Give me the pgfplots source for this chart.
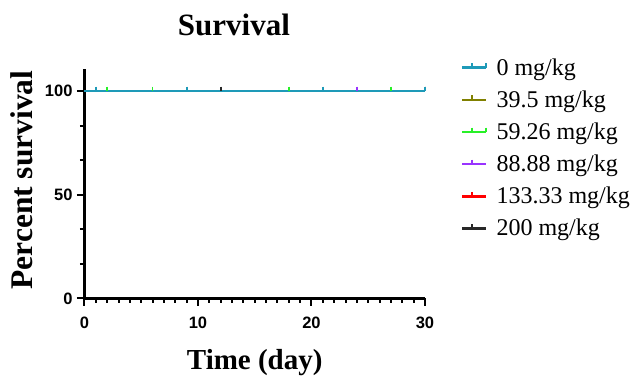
\documentclass[border=0pt]{standalone}
\usepackage{pgfplots}
\pgfplotsset{compat=1.18}
\usepackage{fontspec}
\setmainfont{Liberation Serif}
\setsansfont{Liberation Sans}
\definecolor{cteal}{RGB}{30,154,184}
\definecolor{colive}{RGB}{128,128,0}
\definecolor{cgreen}{RGB}{40,240,40}
\definecolor{cpurple}{RGB}{153,51,255}
\definecolor{cred}{RGB}{255,0,0}
\definecolor{cblack}{RGB}{40,40,40}
\pgfplotsset{srv/.style={line width=2.6pt, mark=|, mark size=2.2pt, mark options={yshift=2.2pt, line width=1.8pt, solid}}}
\begin{document}
\begin{tikzpicture}
\path[use as bounding box] (-84.5pt,-78.5pt) rectangle (548.5pt,298.5pt);
\begin{axis}[
  at={(0pt,0pt)}, anchor=south west,
  scale only axis, width=340.5pt, height=229.5pt,
  xmin=0, xmax=30, ymin=0, ymax=110.6,
  axis x line*=bottom, axis y line*=left,
  xtick={0,10,20,30}, minor x tick num=9,
  ytick={0,50,100}, minor y tick num=2,
  tick align=outside,
  major tick length=7.5pt, minor tick length=4.5pt,
  tick style={line width=2pt, black},
  minor tick style={line width=2pt, black},
  axis line style={line width=2.4pt, black},
  /pgf/number format/assume math mode=true,
  ticklabel style={font=\fontsize{16.5}{18}\selectfont\sffamily\bfseries},
  xticklabel style={yshift=-7.5pt},
  yticklabel style={xshift=-1pt},
  title={Survival},
  title style={font=\fontsize{31}{34}\selectfont\bfseries, at={(axis description cs:0.439,1.168)}, anchor=center},
  xlabel={Time (day)},
  xlabel style={font=\fontsize{29}{34}\selectfont\bfseries, at={(axis description cs:0.5,-0.28)}, anchor=center},
  ylabel={Percent survival},
  ylabel style={font=\fontsize{31.5}{34}\selectfont\bfseries, at={(axis description cs:-0.1835,0.516)}, anchor=center},
  legend style={draw=none, fill=none, at={(axis description cs:1.105,1.055)}, anchor=north west,
     font=\fontsize{24}{26}\selectfont, row sep=10pt, inner sep=0pt,
     /tikz/every odd column/.append style={column sep=7pt}},
  legend image code/.code={\draw[mark repeat=2,mark phase=2,#1] plot coordinates {(0pt,0pt) (10pt,0pt) (24pt,0pt)};},
  legend cell align=left,
  reverse legend,
  clip=false,
]
\addplot[srv, cblack, mark indices={2}] coordinates {(0,100) (12,100) (30,100)};
\addlegendentry{200 mg/kg}
\addplot[srv, cred, mark indices={2}] coordinates {(0,100) (30,100)};
\addlegendentry{133.33 mg/kg}
\addplot[srv, cpurple, mark indices={2}] coordinates {(0,100) (24,100) (30,100)};
\addlegendentry{88.88 mg/kg}
\addplot[srv, cgreen, mark indices={2,3,4,5}] coordinates {(0,100) (2,100) (6,100) (18,100) (27,100) (30,100)};
\addlegendentry{59.26 mg/kg}
\addplot[srv, colive, mark indices={2}] coordinates {(0,100) (30,100)};
\addlegendentry{39.5 mg/kg}
\addplot[srv, cteal, mark indices={2,3,4,5}] coordinates {(0,100) (1,100) (9,100) (21,100) (30,100)};
\addlegendentry{0 mg/kg}
\end{axis}
\end{tikzpicture}
\end{document}
